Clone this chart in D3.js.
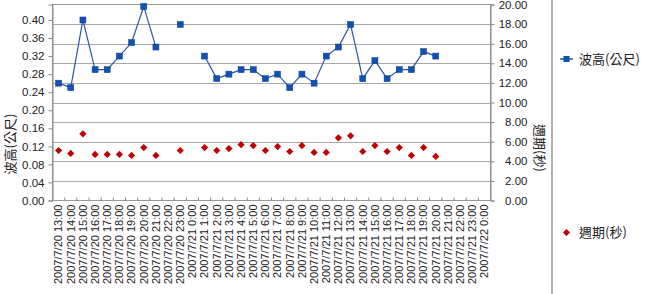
<!DOCTYPE html>
<html><head><meta charset="utf-8">
<script src="https://cdn.jsdelivr.net/npm/d3@7"></script>
<style>body{margin:0;background:#fff;}svg{display:block;}</style>
</head><body>
<script>
const categories = [
"2007/7/20 13:00","2007/7/20 14:00","2007/7/20 15:00","2007/7/20 16:00","2007/7/20 17:00","2007/7/20 18:00",
"2007/7/20 19:00","2007/7/20 20:00","2007/7/20 21:00","2007/7/20 22:00","2007/7/20 23:00",
"2007/7/21 0:00","2007/7/21 1:00","2007/7/21 2:00","2007/7/21 3:00","2007/7/21 4:00","2007/7/21 5:00",
"2007/7/21 6:00","2007/7/21 7:00","2007/7/21 8:00","2007/7/21 9:00","2007/7/21 10:00","2007/7/21 11:00",
"2007/7/21 12:00","2007/7/21 13:00","2007/7/21 14:00","2007/7/21 15:00","2007/7/21 16:00","2007/7/21 17:00",
"2007/7/21 18:00","2007/7/21 19:00","2007/7/21 20:00","2007/7/21 21:00","2007/7/21 22:00","2007/7/21 23:00",
"2007/7/22 0:00"];
const waveHeight = [0.26,0.25,0.40,0.29,0.29,0.32,0.35,0.43,0.34,null,0.39,null,0.32,0.27,0.28,0.29,0.29,0.27,0.28,0.25,0.28,0.26,0.32,0.34,0.39,0.27,0.31,0.27,0.29,0.29,0.33,0.32,null,null,null,null];
const period = [5.1,4.8,6.8,4.7,4.7,4.7,4.6,5.4,4.6,null,5.1,null,5.4,5.1,5.3,5.7,5.6,5.1,5.5,5.0,5.6,4.9,4.9,6.4,6.6,5.0,5.6,5.0,5.4,4.6,5.4,4.5,null,null,null,null];
const leftTicks = [0,0.04,0.08,0.12,0.16,0.20,0.24,0.28,0.32,0.36,0.40];
const rightTicks = [0,2,4,6,8,10,12,14,16,18,20];
const seriesNames = ["波高(公尺)","週期(秒)"];
const axisTitles = ["波高(公尺)","週期(秒)"];

const W=645,H=294;
const L=52.5,R=490.5,T=4.5,B=200.5;
const svg=d3.select("body").append("svg").attr("width",W).attr("height",H);
const numFont="'Liberation Sans',Arial,sans-serif";
const cjkFont="'Noto Sans CJK TC','Noto Sans CJK SC',sans-serif";

const x=d3.scaleBand().domain(categories).range([L,R]);
const yL=d3.scaleLinear().domain([0,0.4343]).range([B,T]);
const yR=d3.scaleLinear().domain([0,20]).range([B,T]);

svg.append("g").selectAll("line").data(rightTicks.slice(1,-1)).join("line")
  .attr("x1",L).attr("x2",R).attr("y1",d=>Math.round(yR(d))+0.5).attr("y2",d=>Math.round(yR(d))+0.5)
  .attr("stroke","#a8a8a8").attr("stroke-width",1.2);
svg.append("rect").attr("x",L).attr("y",T).attr("width",R-L).attr("height",B-T)
  .attr("fill","none").attr("stroke","#999");

const gl=svg.append("g").attr("transform",`translate(${L},0)`)
  .call(d3.axisLeft(yL).tickValues(leftTicks).tickFormat(d3.format(".2f")).tickSize(4).tickPadding(4));
gl.select(".domain").attr("stroke","#888");
gl.selectAll(".tick line").attr("stroke","#888");
gl.selectAll("text").attr("font-family",numFont).attr("font-size",11.5).attr("fill","#222");

const gr=svg.append("g").attr("transform",`translate(${R},0)`)
  .call(d3.axisRight(yR).tickValues(rightTicks).tickFormat(d3.format(".2f")).tickSize(4).tickPadding(4));
gr.select(".domain").attr("stroke","#888");
gr.selectAll(".tick line").attr("stroke","#888");
gr.selectAll("text").attr("font-family",numFont).attr("font-size",11.5).attr("fill","#222")
  .attr("text-anchor","end").attr("x",37);

const gx=svg.append("g").attr("transform",`translate(0,${B})`)
  .call(d3.axisBottom(x).tickSize(0).tickPadding(0));
gx.select(".domain").remove();
gx.selectAll("text").attr("font-family",numFont).attr("font-size",11).attr("fill","#222")
  .attr("transform","rotate(-90)").attr("text-anchor","end").attr("dy","0.35em").attr("x",-4).attr("y",0);
svg.append("g").selectAll("line").data(categories.slice(1)).join("line")
  .attr("x1",d=>x(d)).attr("x2",d=>x(d)).attr("y1",B).attr("y2",B-3).attr("stroke","#888");

const line=d3.line().defined(d=>d!=null).x((d,i)=>x(categories[i])+x.bandwidth()/2).y(d=>yL(d));
svg.append("path").datum(waveHeight).attr("d",line).attr("fill","none").attr("stroke","#2a56a8").attr("stroke-width",1.2);
const wh=waveHeight.map((v,i)=>({v,c:categories[i]})).filter(d=>d.v!=null);
svg.append("g").selectAll("rect").data(wh).join("rect")
  .attr("x",d=>x(d.c)+x.bandwidth()/2-3).attr("y",d=>yL(d.v)-3).attr("width",6).attr("height",6)
  .attr("fill","#1350b4").attr("stroke","#0b3c8c").attr("stroke-width",0.5);

const pd=period.map((v,i)=>({v,c:categories[i]})).filter(d=>d.v!=null);
svg.append("g").selectAll("path").data(pd).join("path")
  .attr("d",d3.symbol().type(d3.symbolSquare).size(26))
  .attr("transform",d=>`translate(${x(d.c)+x.bandwidth()/2},${yR(d.v)}) rotate(45)`)
  .attr("fill","#c00000");

svg.append("text").text(axisTitles[0]).attr("transform","translate(15,144) rotate(-90)")
  .attr("text-anchor","middle").attr("font-family",cjkFont).attr("font-size",13).attr("fill","#222");
svg.append("text").text(axisTitles[1]).attr("transform","translate(535,148) rotate(90)")
  .attr("text-anchor","middle").attr("font-family",cjkFont).attr("font-size",13).attr("fill","#222");

svg.append("line").attr("x1",552).attr("x2",552).attr("y1",0).attr("y2",H).attr("stroke","#999").attr("stroke-width",1.5);

const lg=svg.append("g");
lg.append("line").attr("x1",560).attr("x2",573).attr("y1",59).attr("y2",59).attr("stroke","#2a56a8").attr("stroke-width",1.5);
lg.append("rect").attr("x",563.5).attr("y",56).attr("width",6).attr("height",6).attr("fill","#1350b4");
lg.append("text").text(seriesNames[0]).attr("x",579).attr("y",59).attr("dy","0.36em")
  .attr("font-family",cjkFont).attr("font-size",13).attr("fill","#222");
lg.append("path").attr("d",d3.symbol().type(d3.symbolSquare).size(26))
  .attr("transform","translate(566.5,232.5) rotate(45)").attr("fill","#c00000");
lg.append("text").text(seriesNames[1]).attr("x",579).attr("y",232.5).attr("dy","0.36em")
  .attr("font-family",cjkFont).attr("font-size",13).attr("fill","#222");
</script>
</body></html>
